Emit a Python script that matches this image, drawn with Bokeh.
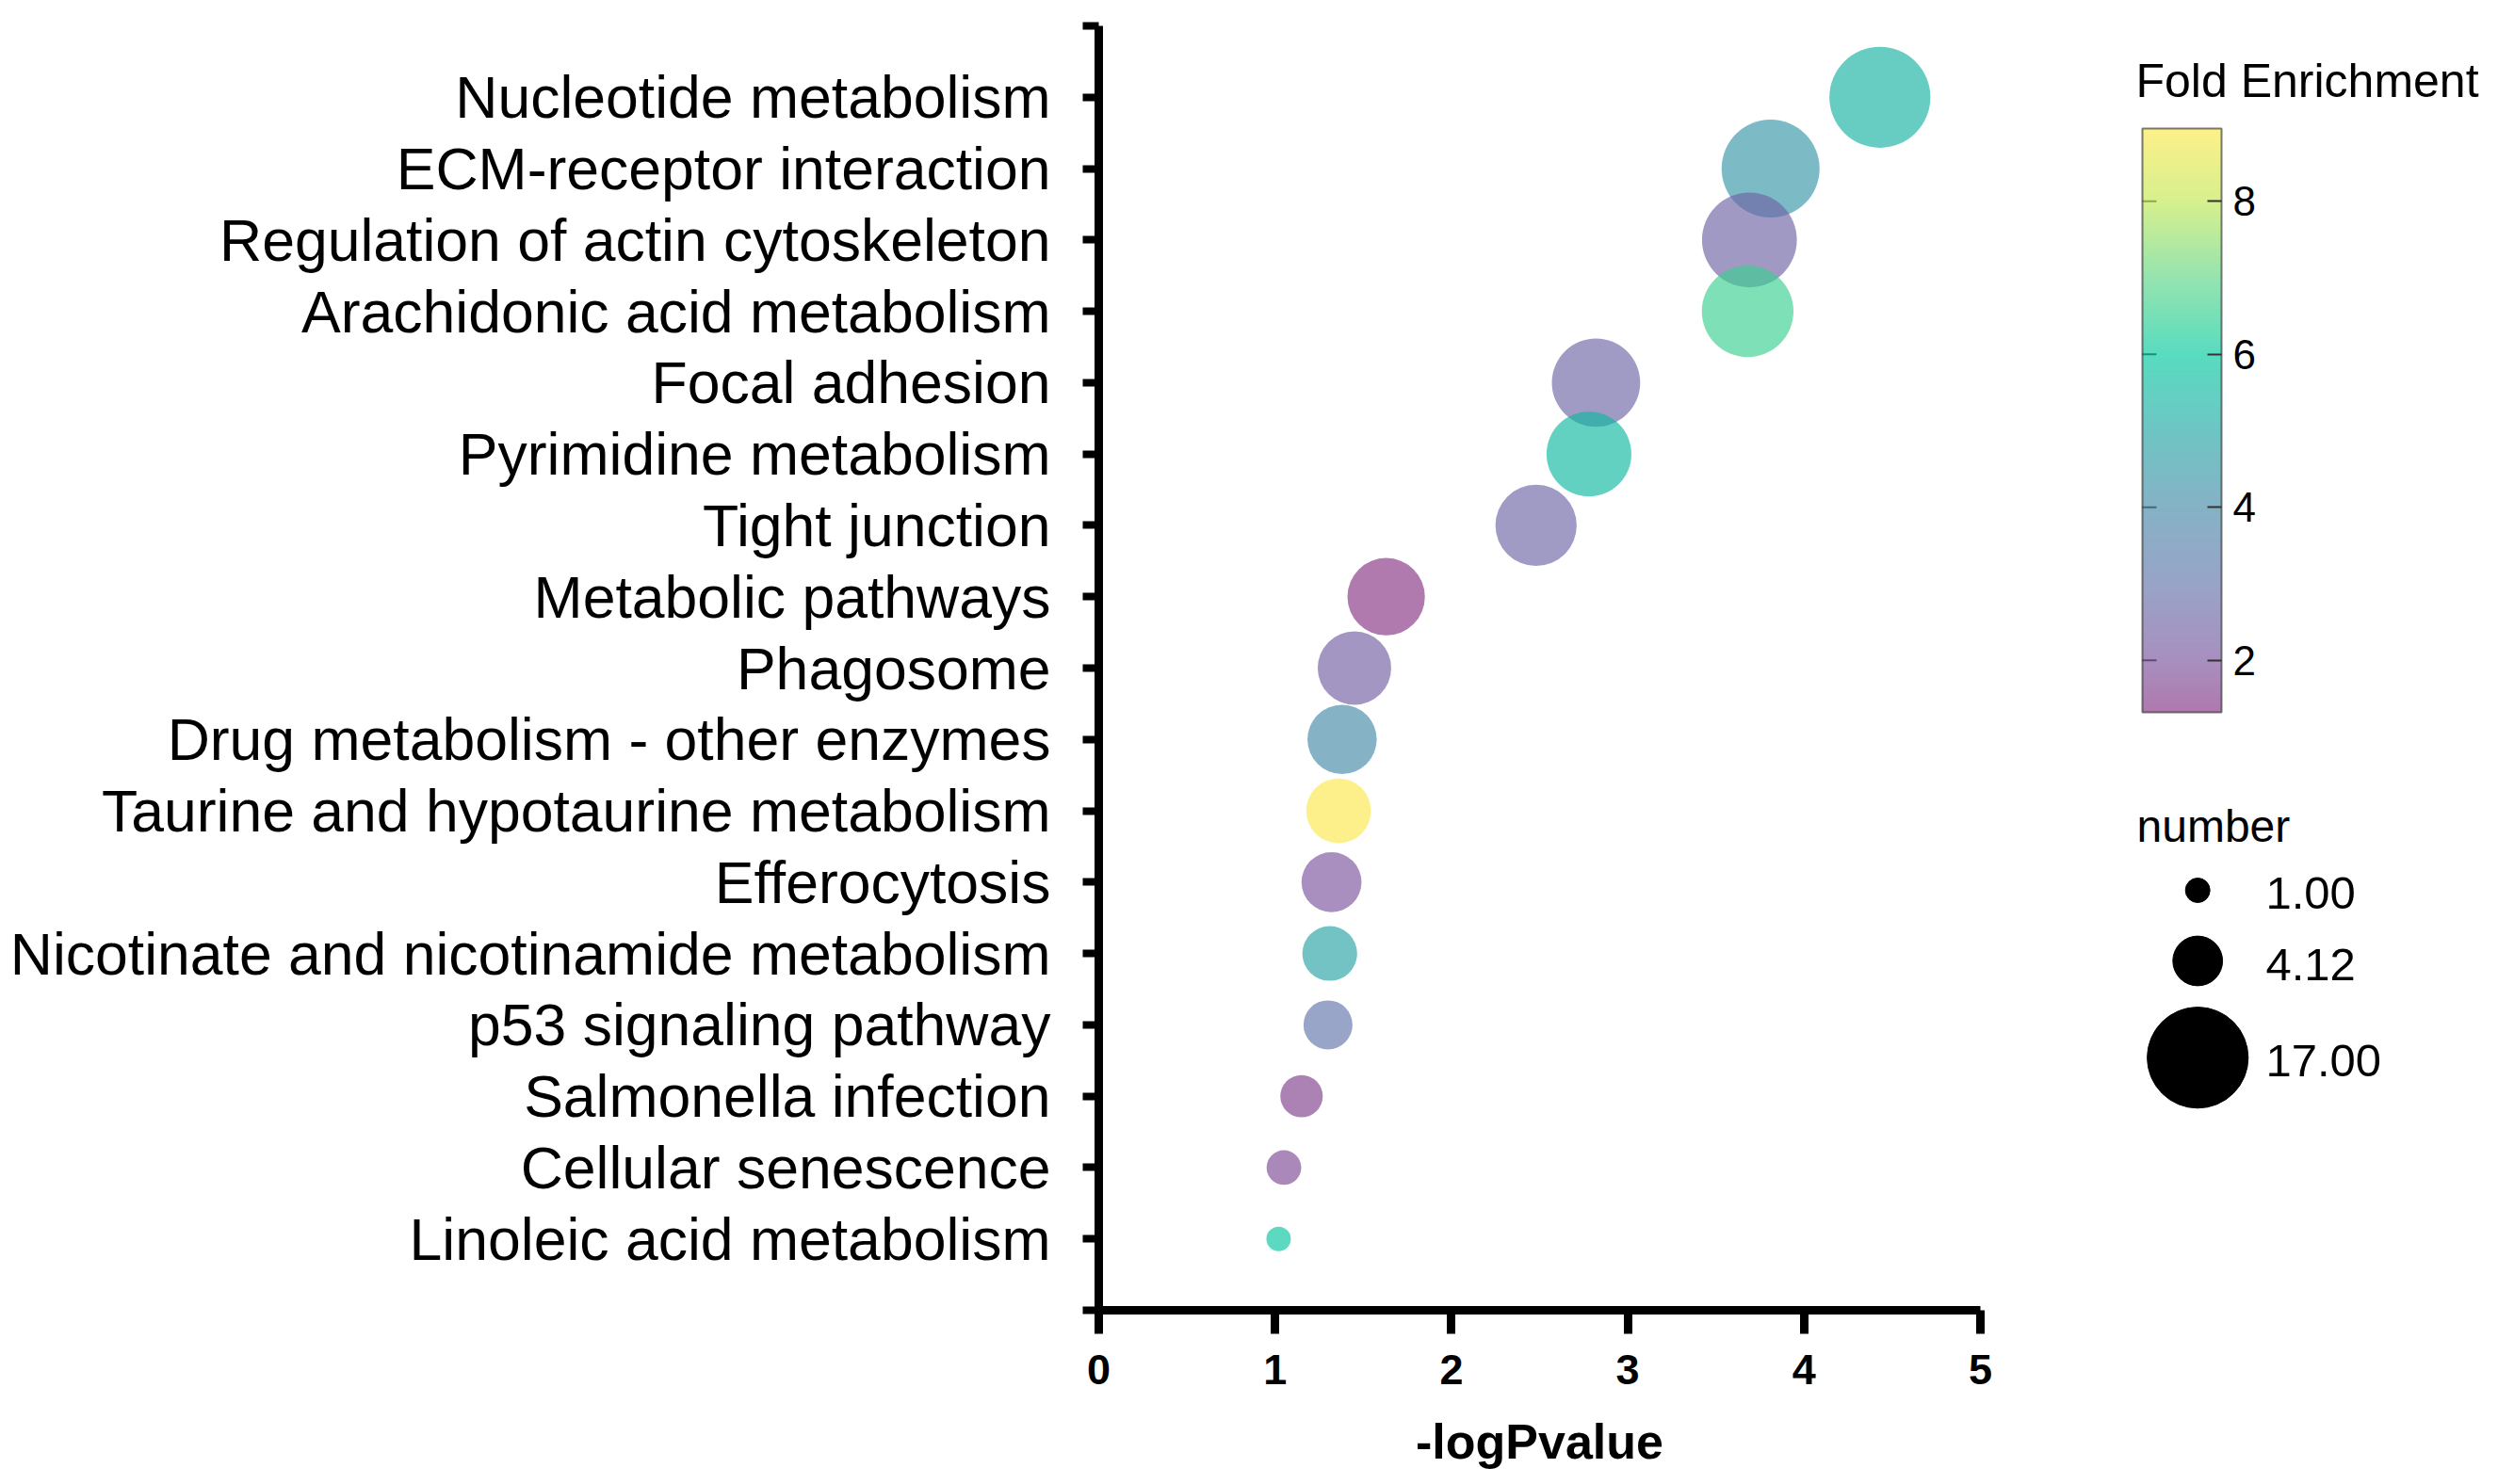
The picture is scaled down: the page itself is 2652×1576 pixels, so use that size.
import numpy as np
from bokeh.plotting import figure
from bokeh.models import ColumnDataSource, LinearColorMapper, ColorBar, FixedTicker, Range1d
from bokeh.layouts import row
from bokeh.embed import file_html
from bokeh.resources import INLINE
from bokeh.core.properties import value

# ---------------- data ----------------
categories = [
    "Nucleotide metabolism",
    "ECM-receptor interaction",
    "Regulation of actin cytoskeleton",
    "Arachidonic acid metabolism",
    "Focal adhesion",
    "Pyrimidine metabolism",
    "Tight junction",
    "Metabolic pathways",
    "Phagosome",
    "Drug metabolism - other enzymes",
    "Taurine and hypotaurine metabolism",
    "Efferocytosis",
    "Nicotinate and nicotinamide metabolism",
    "p53 signaling pathway",
    "Salmonella infection",
    "Cellular senescence",
    "Linoleic acid metabolism",
]
neg_log_p = [4.43, 3.81, 3.69, 3.68, 2.82, 2.78, 2.48, 1.63, 1.45, 1.38,
             1.36, 1.32, 1.31, 1.30, 1.15, 1.05, 1.02]
number = [17, 16, 15, 14, 13, 12, 11, 10, 9, 8, 7, 6, 5, 4, 3, 2, 1]
fold_enrichment = [5.3, 4.4, 2.5, 6.6, 2.6, 5.5, 2.6, 1.32, 2.3, 4.0,
                   8.95, 2.0, 4.8, 3.0, 1.6, 1.8, 5.9]

x_ticks = [0, 1, 2, 3, 4, 5]
fe_ticks = [2, 4, 6, 8]
size_legend_values = [1.00, 4.12, 17.00]

# colour scale stops (Fold Enrichment value -> colour)
fe_stop_values = [1.32, 2.0, 3.0, 4.0, 5.0, 6.0, 7.0, 8.0, 8.95]
fe_stop_colors = ["#853282", "#79549d", "#6173aa", "#4589a7", "#20a7a4",
                  "#00c99e", "#5dd585", "#c0e851", "#fce84b"]

# ---------------- style / layout ----------------
FONT = "Liberation Sans"
ALPHA = 0.65
K_SIZE = 26.0
H = 1568
W_MAIN = 2244
W_LEG = 400
CB_W, CB_H = 84, 620
CB_LEFT, CB_TOP = 2274, 136
PAD = 10


def hex2rgb(h):
    return tuple(int(h[i:i + 2], 16) for i in (1, 3, 5))


lo, hi = min(fold_enrichment), max(fold_enrichment)
sv = np.array(fe_stop_values)
sc = np.array([hex2rgb(c) for c in fe_stop_colors], dtype=float)
palette = []
for t in np.linspace(lo, hi, 256):
    r, g, b = (int(round(np.interp(t, sv, sc[:, k]))) for k in range(3))
    palette.append("#%02x%02x%02x" % (r, g, b))

mapper = LinearColorMapper(palette=palette, low=lo, high=hi)

n = len(categories)
ypos = list(range(n, 0, -1))
sizes = [K_SIZE * np.sqrt(v) for v in number]

src = ColumnDataSource(dict(x=neg_log_p, y=ypos, size=sizes, fe=fold_enrichment,
                            name=categories, number=number))

# ---------------- main plot ----------------
p = figure(width=W_MAIN, height=H, x_range=Range1d(0, 5), y_range=Range1d(0, n + 1),
           output_backend="svg", toolbar_location=None,
           min_border_left=1166, min_border_right=142, min_border_top=27,
           min_border_bottom=177)
p.frame_align = False
p.outline_line_color = None
p.grid.visible = False
p.background_fill_color = "white"
p.border_fill_color = "white"

p.scatter("x", "y", size="size", source=src, marker="circle",
          fill_color={"field": "fe", "transform": mapper}, fill_alpha=ALPHA,
          line_color=None)

# x axis
xa = p.xaxis[0]
xa.ticker = FixedTicker(ticks=x_ticks)
xa.minor_tick_line_color = None
xa.axis_line_width = 9
xa.axis_line_color = "black"
xa.major_tick_line_width = 9
xa.major_tick_line_color = "black"
xa.major_tick_out = 25
xa.major_tick_in = 0
xa.major_label_text_font = FONT
xa.major_label_text_font_size = "45px"
xa.major_label_text_font_style = "bold"
xa.major_label_text_color = "black"
xa.major_label_standoff = 22
xa.axis_label = "-logPvalue"
xa.axis_label_text_font = FONT
xa.axis_label_text_font_size = "52px"
xa.axis_label_text_font_style = "bold"
xa.axis_label_text_color = "black"
xa.axis_label_standoff = 29

# y axis
ya = p.yaxis[0]
ya.ticker = FixedTicker(ticks=list(range(0, n + 2)))
ya.major_label_overrides = {i: "" for i in (0, n + 1)} | {y: c for y, c in zip(ypos, categories)}
ya.minor_tick_line_color = None
ya.axis_line_width = 9
ya.axis_line_color = "black"
ya.major_tick_line_width = 8
ya.major_tick_line_color = "black"
ya.major_tick_out = 17
ya.major_tick_in = 0
ya.major_label_text_font = FONT
ya.major_label_text_font_size = "62.5px"
ya.major_label_text_color = "black"
ya.major_label_standoff = 34

# ---------------- legend panel ----------------
leg = figure(width=W_LEG, height=H,
             x_range=Range1d(CB_LEFT - PAD, W_MAIN + W_LEG),
             y_range=Range1d(H, CB_TOP - PAD),
             output_backend="svg", toolbar_location=None,
             x_axis_location=None, y_axis_location=None,
             min_border=0, min_border_left=CB_LEFT - PAD - W_MAIN,
             min_border_top=CB_TOP - PAD)
leg.frame_align = False
leg.outline_line_color = None
leg.grid.visible = False
leg.background_fill_color = "white"
leg.border_fill_color = "white"

# colour-bar title as the panel title (sits just above the bar)
leg.title.text = "Fold Enrichment"
leg.title.align = "left"
leg.title.offset = 3
leg.title.standoff = 26
leg.title.text_font = FONT
leg.title.text_font_size = "50px"
leg.title.text_font_style = "normal"
leg.title.text_color = "black"

cb = ColorBar(color_mapper=mapper, ticker=FixedTicker(ticks=fe_ticks),
              width=CB_W, height=CB_H, location="top_left", margin=0, padding=PAD,
              scale_alpha=ALPHA, title=None,
              major_label_text_font=FONT, major_label_text_font_size="44px",
              major_label_text_color="black", label_standoff=12,
              major_tick_in=15, major_tick_out=0,
              major_tick_line_color="#333333", major_tick_line_width=2,
              minor_tick_line_color=None,
              bar_line_color="#333333", bar_line_width=2,
              background_fill_alpha=0, border_line_color=None)
leg.add_layout(cb)

# inner ticks on the left edge of the colour bar (mirroring the right-edge ones)
tick_y = [CB_TOP + CB_H - (t - lo) / (hi - lo) * CB_H for t in fe_ticks]
leg.segment(x0=[CB_LEFT] * len(fe_ticks), x1=[CB_LEFT + 15] * len(fe_ticks),
            y0=tick_y, y1=tick_y, line_color="#333333", line_width=2)

# size legend
leg_cx = 2332.7
leg_cy = [945, 1020, 1122.7]
leg.scatter(x=[leg_cx] * 3, y=leg_cy, size=[K_SIZE * np.sqrt(v) for v in size_legend_values],
            marker="circle", color="black")
leg.text(x=[2405] * 3, y=[948, 1024, 1126], text=["%.2f" % v for v in size_legend_values],
         text_font=value(FONT), text_font_size="49px", text_color="black",
         text_align="left", text_baseline="middle")
leg.text(x=[2268], y=[877], text=["number"], text_font=value(FONT), text_font_size="48px",
         text_color="black", text_align="left", text_baseline="alphabetic")

layout = row(p, leg, spacing=0)
open("out.html", "w").write(file_html(layout, INLINE))
